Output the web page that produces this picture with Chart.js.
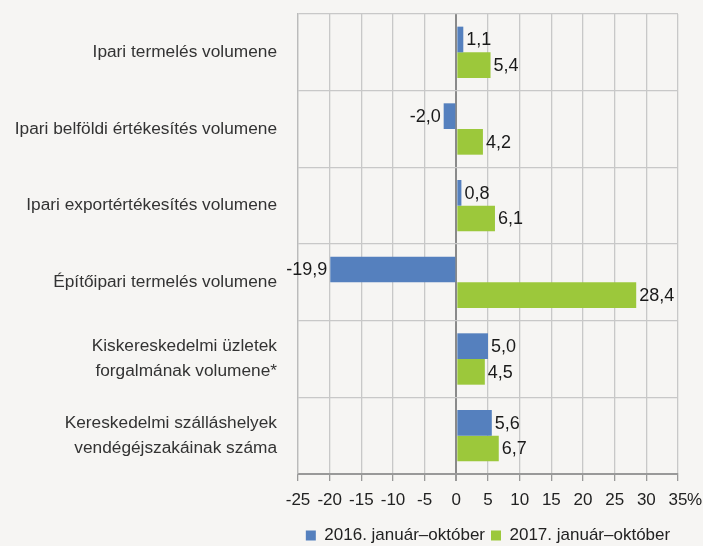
<html>
<head>
<meta charset="UTF-8">
<title>Ipar, építőipar, kereskedelem</title>
<style>
body {
    margin: 0;
    padding: 0;
    background: #f6f5f3;
}
div.wrap {
    width: 703px;
    height: 546px;
}
</style>
<script src="https://cdn.jsdelivr.net/npm/chart.js@4/dist/chart.umd.min.js"></script>
</head>
<body>
<div class="wrap"><canvas id="canvas" width="703" height="546"></canvas></div>
</body>
<script>
const categories = [
    "Ipari termelés volumene",
    "Ipari belföldi értékesítés volumene",
    "Ipari exportértékesítés volumene",
    "Építőipari termelés volumene",
    ["Kiskereskedelmi üzletek", "forgalmának volumene*"],
    ["Kereskedelmi szálláshelyek", "vendégéjszakáinak száma"],
]
const series2016 = [1.1, -2.0, 0.8, -19.9, 5.0, 5.6]
const series2017 = [5.4, 4.2, 6.1, 28.4, 4.5, 6.7]
const seriesNames = ["2016. január–október", "2017. január–október"]

const font = "'Liberation Sans', Arial, sans-serif"
const fmt = v => v.toFixed(1).replace(".", ",")

const background = {
    id: "background",
    beforeDraw(chart) {
        const c = chart.ctx
        c.save()
        c.fillStyle = "#f6f5f3"
        c.fillRect(0, 0, chart.width, chart.height)
        c.restore()
    },
}

// value labels next to bar ends, plus the "%" after the last tick
const valueLabels = {
    id: "valueLabels",
    afterDatasetsDraw(chart) {
        const c = chart.ctx
        c.save()
        c.font = "18px " + font
        c.fillStyle = "#1a1a1a"
        c.textBaseline = "middle"
        chart.data.datasets.forEach((ds, i) => {
            chart.getDatasetMeta(i).data.forEach((bar, j) => {
                const v = ds.data[j]
                if (v < 0) {
                    c.textAlign = "right"
                    c.fillText(fmt(v), bar.x - 3, bar.y + 1)
                } else {
                    c.textAlign = "left"
                    c.fillText(fmt(v), bar.x + 3, bar.y + 1)
                }
            })
        })
        const x = chart.scales.x
        c.font = "17px " + font
        c.textAlign = "left"
        c.fillStyle = "#222"
        c.fillText("%", x.getPixelForValue(35) + 9, x.top + 26)
        c.restore()
    },
}

const ctx = document.getElementById("canvas").getContext("2d")
const chart = new Chart(ctx, {
    type: "bar",
    data: {
        labels: categories,
        datasets: [
            {label: seriesNames[0], data: series2016, backgroundColor: "#5580be"},
            {label: seriesNames[1], data: series2017, backgroundColor: "#9cc83b"},
        ],
    },
    plugins: [background, valueLabels],
    options: {
        indexAxis: "y",
        responsive: false,
        animation: false,
        categoryPercentage: 0.67,
        barPercentage: 1.0,
        layout: {padding: {top: 14, right: 25, left: 0, bottom: -8}},
        plugins: {
            tooltip: {enabled: false},
            legend: {
                position: "bottom",
                fullSize: false,
                labels: {
                    font: {family: font, size: 17},
                    color: "#222",
                    boxWidth: 10,
                    boxHeight: 10,
                    padding: 6,
                },
            },
        },
        scales: {
            x: {
                min: -25,
                max: 35,
                ticks: {
                    stepSize: 5,
                    font: {family: font, size: 17},
                    color: "#222",
                    padding: 9,
                    maxRotation: 0,
                },
                grid: {
                    color: c => c.tick && c.tick.value === 0 ? "#8a8a8a" : "#c8c8c8",
                    lineWidth: c => c.tick && c.tick.value === 0 ? 2 : 1.3,
                    tickColor: "#999",
                    tickLength: 7,
                },
                border: {color: "#999", width: 2},
                afterFit: s => { s.height = 47 },
            },
            y: {
                ticks: {
                    font: {family: font, size: 17.3, lineHeight: 1.45},
                    color: "#333",
                    padding: 21,
                },
                grid: {color: "#c8c8c8", lineWidth: 1.3, drawTicks: false},
                border: {color: "#bbb", width: 1.3},
                afterFit: s => {
                    s.width = 298
                    s.paddingTop = 0
                    s.paddingBottom = 0
                },
            },
        },
    },
})
</script>
</html>
